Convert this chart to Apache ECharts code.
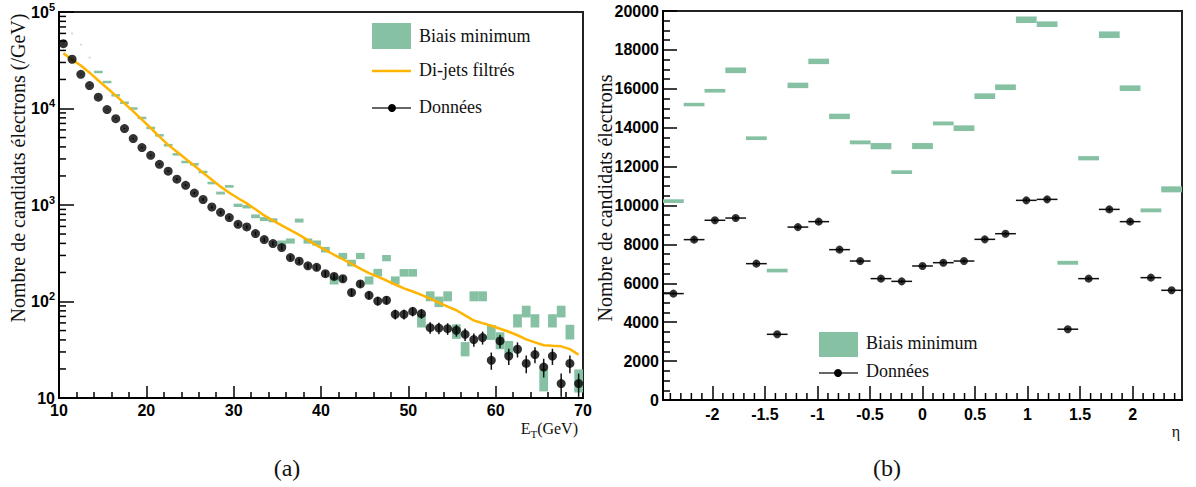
<!DOCTYPE html>
<html><head><meta charset="utf-8">
<script src="https://cdn.jsdelivr.net/npm/echarts@6/dist/echarts.min.js"></script>
<style>html,body{margin:0;padding:0;background:#fff}#c{width:1196px;height:487px}</style>
</head><body><div id="c"></div>
<script>
// ---------- Panel (a): E_T ----------
const etCenters = [10.5,11.5,12.5,13.5,14.5,15.5,16.5,17.5,18.5,19.5,20.5,21.5,22.5,23.5,24.5,25.5,26.5,27.5,28.5,29.5,30.5,31.5,32.5,33.5,34.5,35.5,36.5,37.5,38.5,39.5,40.5,41.5,42.5,43.5,44.5,45.5,46.5,47.5,48.5,49.5,50.5,51.5,52.5,53.5,54.5,55.5,56.5,57.5,58.5,59.5,60.5,61.5,62.5,63.5,64.5,65.5,66.5,67.5,68.5,69.5];
const etBinWidth = 1;
const dataEt = [47000,32400,22600,17300,13100,9740,7850,6190,4880,3940,3270,2640,2240,1850,1600,1330,1140,953,840,740,631,592,506,438,398,362,285,262,234,226,194,182,172,124,152,116,101,103,73.6,73.6,79,74.8,53.6,53,52.3,50.3,45.7,40.3,42.3,24.6,39,27.2,32,22.8,28.2,20.9,27.2,14.1,22.8,14.1];
const dataEtErr = [217,180,150,132,114,99,89,79,70,63,57,51,47,43,40,36,34,31,29,27,25,24,22,21,20,19,17,16,15,15,14,13.5,13,11,12.3,10.8,10,10.1,8.6,8.6,8.9,8.6,7.3,7.3,7.2,7.1,6.8,6.3,6.5,5,6.2,5.2,5.7,4.8,5.3,4.6,5.2,3.8,4.8,3.8];
const dijetEt = [37300,32000,27900,23500,19500,16300,13600,11300,9350,7680,6280,5120,4200,3560,3010,2550,2160,1830,1550,1340,1175,1040,902,780,689,614,548,490,433,382,341,305,274,245,219,197,181,165,150,137,127,117,107,97.2,88.3,81.1,71.8,63.6,59.7,56.1,52.2,48.6,44.7,40.5,37.7,35.2,34.7,34.3,32.1,28.1];
const mbEt = [null,null,null,null,23900,18800,13700,11500,10000,7980,6290,5270,4160,3350,2790,2640,2200,1690,1330,1560,993,960,764,715,695,404,424,690,424,404,345,166,297,251,297,166,200,282,166,199,199,63.8,114,100,114,49.5,32.5,114,114,48.5,40,33.5,63.8,79.4,63.8,15.9,63.8,79.4,48.9,15.6];
const mbEtErr = [null,null,null,null,190,170,150,135,125,113,100,92,82,73,67,65,59,52,46,50,40,39,35,34,33,25,26,33,26,25,23,16,22,20,22,16,18,21,16,18,18,10,13.5,12.5,13.5,8.5,5.5,13.5,13.5,8.5,8,5.5,10,11,10,4.2,10,11,8.5,4.2];
const mbFaintCenters = [11.5,12.5,13.5];
const mbFaintValues = [59700,45900,33700];
const logTickValues = [10,100,1000,10000,100000];
const logTickExp = ['', '2', '3', '4', '5'];
const logMinorTicks = [20,30,40,50,60,70,80,90,200,300,400,500,600,700,800,900,2000,3000,4000,5000,6000,7000,8000,9000,20000,30000,40000,50000,60000,70000,80000,90000];

// ---------- Panel (b): eta ----------
const etaMin = -2.47, etaMax = 2.47;
const etaBinWidth = 0.1976;
const etaCenters = [-2.371,-2.174,-1.976,-1.778,-1.581,-1.383,-1.186,-0.988,-0.790,-0.593,-0.395,-0.198,0,0.198,0.395,0.593,0.790,0.988,1.186,1.383,1.581,1.778,1.976,2.174,2.371];
const dataEta = [5470,8245,9240,9355,7010,3377,8890,9170,7730,7145,6240,6100,6890,7060,7145,8260,8550,10265,10315,3640,6240,9800,9170,6290,5640];
const dataEtaErr = [74,91,96,97,84,58,94,96,88,85,79,78,83,84,85,91,92,101,102,60,79,99,96,79,75];
const mbEta = [10225,15190,15900,16950,13460,6655,16175,17410,14580,13245,13050,11715,13055,14220,13975,15620,16080,19550,19320,7055,12430,18780,16030,9750,10830];
const mbEtaErr = [95,90,95,145,95,95,140,140,140,100,160,95,155,100,145,145,145,170,145,100,110,170,145,100,155];
const etaTicks = [-2,-1.5,-1,-0.5,0,0.5,1,1.5,2];
const etaTickLabels = ['-2','-1.5','-1','-0.5','0','0.5','1','1.5','2'];
const etaMinorTicks = [-2.4,-2.3,-2.2,-2.1,-1.9,-1.8,-1.7,-1.6,-1.4,-1.3,-1.2,-1.1,-0.9,-0.8,-0.7,-0.6,-0.4,-0.3,-0.2,-0.1,0.1,0.2,0.3,0.4,0.6,0.7,0.8,0.9,1.1,1.2,1.3,1.4,1.6,1.7,1.8,1.9,2.1,2.2,2.3,2.4];

const GREEN = '#86c1a3', ORANGE = '#ffb400', BLACK = '#000';
const SANS = '"Liberation Sans", Arial, sans-serif';
const SERIF = '"Liberation Serif", "Times New Roman", serif';
const tickLabel = {fontFamily: SANS, fontWeight: 'bold', fontSize: 16, color: BLACK};

function boxRender(binW, minH) {
  return function (params, api) {
    const c = api.value(0), v = api.value(1), e = api.value(2);
    const p1 = api.coord([c - binW / 2, v + e]);
    const p2 = api.coord([c + binW / 2, v - e]);
    let y1 = p1[1], y2 = p2[1];
    if (y2 - y1 < minH) { const m = (y1 + y2) / 2; y1 = m - minH / 2; y2 = m + minH / 2; }
    return {type: 'rect', shape: {x: p1[0], y: y1, width: p2[0] - p1[0], height: y2 - y1}, style: {fill: GREEN}};
  };
}
function errRender(binW, lw) {
  return function (params, api) {
    const c = api.value(0), v = api.value(1), e = api.value(2);
    const top = api.coord([c, v + e]), bot = api.coord([c, v - e]);
    const children = [{type: 'line', shape: {x1: top[0], y1: top[1], x2: bot[0], y2: bot[1]}, style: {stroke: '#111', lineWidth: lw}}];
    if (binW) {
      const l = api.coord([c - binW / 2, v]), r = api.coord([c + binW / 2, v]);
      children.push({type: 'line', shape: {x1: l[0], y1: l[1], x2: r[0], y2: r[1]}, style: {stroke: '#111', lineWidth: lw}});
    }
    return {type: 'group', children};
  };
}

const mbEtData = [], dataEtErrData = [], dataEtPts = [], dijetPts = [];
etCenters.forEach((c, i) => {
  if (mbEt[i] != null) mbEtData.push([c, mbEt[i], mbEtErr[i]]);
  dataEtErrData.push([c, dataEt[i], dataEtErr[i]]);
  dataEtPts.push([c, dataEt[i]]);
  dijetPts.push([c, dijetEt[i]]);
});
const mbFaintPts = mbFaintCenters.map((c, i) => [c, mbFaintValues[i]]);
const mbEtaData = etaCenters.map((c, i) => [c, mbEta[i], mbEtaErr[i]]);
const dataEtaErrData = etaCenters.map((c, i) => [c, dataEta[i], dataEtaErr[i]]);
const dataEtaPts = etaCenters.map((c, i) => [c, dataEta[i]]);

const axisLine = {show: true, onZero: false, lineStyle: {color: BLACK, width: 2}};

const chart = echarts.init(document.getElementById('c'), null, {renderer: 'svg', width: 1196, height: 487});
chart.setOption({
  animation: false,
  backgroundColor: '#fff',
  grid: [
    {left: 59, top: 12, width: 524, height: 386, show: true, borderColor: '#222', borderWidth: 2, backgroundColor: 'transparent'},
    {left: 663, top: 11, width: 519, height: 389, show: true, borderColor: '#222', borderWidth: 2, backgroundColor: 'transparent'}
  ],
  xAxis: [
    {gridIndex: 0, type: 'value', min: 10, max: 70, interval: 10, axisLine,
      axisTick: {inside: true, length: 12, lineStyle: {color: BLACK, width: 1.5}},
      minorTick: {show: true, splitNumber: 5, length: 6, lineStyle: {color: BLACK, width: 1.5}},
      axisLabel: Object.assign({margin: 4}, tickLabel),
      splitLine: {show: false}, minorSplitLine: {show: false}},
    {gridIndex: 1, type: 'value', min: etaMin, max: etaMax, axisLine,
      axisTick: {inside: true, length: 14, customValues: etaTicks, lineStyle: {color: BLACK, width: 1.5}},
      axisLabel: Object.assign({margin: 6, customValues: etaTicks,
        formatter: v => { const k = etaTicks.findIndex(t => Math.abs(t - v) < 1e-6); return k >= 0 ? etaTickLabels[k] : ''; }}, tickLabel),
      splitLine: {show: false}}
  ],
  yAxis: [
    {gridIndex: 0, type: 'log', logBase: 10, min: 10, max: 100000, axisLine,
      axisTick: {inside: true, length: 15, lineStyle: {color: BLACK, width: 1.5}},
      axisLabel: {margin: 4, color: BLACK,
        formatter: v => { const k = logTickValues.findIndex(t => Math.abs(t - v) / t < 1e-6); if (k < 0) return ''; return logTickExp[k] ? '{b|10}{s|' + logTickExp[k] + '}' : '{b|10}'; },
        rich: {b: {fontFamily: SANS, fontWeight: 'bold', fontSize: 16, color: BLACK, lineHeight: 22},
               s: {fontFamily: SANS, fontWeight: 'bold', fontSize: 11, color: BLACK, verticalAlign: 'top', lineHeight: 22}}},
      splitLine: {show: false}},
    {gridIndex: 1, type: 'value', min: 0, max: 20000, interval: 2000, axisLine,
      axisTick: {inside: true, length: 14, lineStyle: {color: BLACK, width: 1.5}},
      minorTick: {show: true, splitNumber: 4, length: 7, lineStyle: {color: BLACK, width: 1.5}},
      axisLabel: Object.assign({margin: 4, formatter: v => String(v)}, tickLabel),
      splitLine: {show: false}, minorSplitLine: {show: false}}
  ],
  series: [
    {name: 'Biais minimum', type: 'custom', xAxisIndex: 0, yAxisIndex: 0, z: 1, renderItem: boxRender(etBinWidth, 2.5), data: mbEtData, silent: true},
    {name: 'Biais minimum faint', type: 'scatter', xAxisIndex: 0, yAxisIndex: 0, z: 1, symbol: 'rect', symbolSize: [2, 2], itemStyle: {color: '#b9dcc9'}, data: mbFaintPts, silent: true},
    {name: 'Di-jets filtrés', type: 'line', xAxisIndex: 0, yAxisIndex: 0, z: 2, showSymbol: false, symbol: 'none', lineStyle: {color: ORANGE, width: 2.5}, data: dijetPts, silent: true},
    {name: 'Données err', type: 'custom', xAxisIndex: 0, yAxisIndex: 0, z: 3, renderItem: errRender(0, 1.5), data: dataEtErrData, silent: true},
    {name: 'Données', type: 'scatter', xAxisIndex: 0, yAxisIndex: 0, z: 4, symbol: 'circle', symbolSize: 9, itemStyle: {color: BLACK}, data: dataEtPts, silent: true},
    {name: 'log minor ticks', type: 'custom', xAxisIndex: 0, yAxisIndex: 0, z: 5, clip: false, silent: true,
      data: logMinorTicks.map(v => [10, v]),
      renderItem: (p, api) => { const q = api.coord([10, api.value(1)]); return {type: 'line', shape: {x1: q[0], y1: q[1], x2: q[0] + 7, y2: q[1]}, style: {stroke: BLACK, lineWidth: 1.5}}; }},
    {name: 'Biais minimum (b)', type: 'custom', xAxisIndex: 1, yAxisIndex: 1, z: 1, renderItem: boxRender(etaBinWidth, 3), data: mbEtaData, silent: true},
    {name: 'Données err (b)', type: 'custom', xAxisIndex: 1, yAxisIndex: 1, z: 3, renderItem: errRender(etaBinWidth, 1.5), data: dataEtaErrData, silent: true},
    {name: 'Données (b)', type: 'scatter', xAxisIndex: 1, yAxisIndex: 1, z: 4, symbol: 'circle', symbolSize: 8, itemStyle: {color: BLACK}, data: dataEtaPts, silent: true},
    {name: 'eta minor ticks', type: 'custom', xAxisIndex: 1, yAxisIndex: 1, z: 5, clip: false, silent: true,
      data: etaMinorTicks.map(v => [v, 0]),
      renderItem: (p, api) => { const q = api.coord([api.value(0), 0]); return {type: 'line', shape: {x1: q[0], y1: q[1], x2: q[0], y2: q[1] - 7}, style: {stroke: BLACK, lineWidth: 1.5}}; }}
  ],
  graphic: [
    // axis titles
    {type: 'text', x: 18, y: 168, rotation: Math.PI / 2, style: {text: 'Nombre de candidats électrons (/GeV)', x: 0, y: 0, font: '20px ' + SERIF, fill: '#111', align: 'center', verticalAlign: 'middle', textAlign: 'center', textVerticalAlign: 'middle'}},
    {type: 'text', x: 605, y: 198, rotation: Math.PI / 2, style: {text: 'Nombre de candidats électrons', x: 0, y: 0, font: '20px ' + SERIF, fill: '#111', align: 'center', verticalAlign: 'middle', textAlign: 'center', textVerticalAlign: 'middle'}},
    {type: 'text', x: 578, y: 428, style: {text: '{a|E}{b|T}{a|(GeV)}', x: 0, y: 0, align: 'right', verticalAlign: 'middle', textAlign: 'right', textVerticalAlign: 'middle',
      rich: {a: {fontFamily: SERIF, fontSize: 16, fill: '#111', color: '#111', lineHeight: 22}, b: {fontFamily: SERIF, fontSize: 11, fill: '#111', color: '#111', verticalAlign: 'bottom'}}}},
    {type: 'text', x: 1176, y: 431, style: {text: 'η', x: 0, y: 0, font: '16px ' + SERIF, fill: '#111', align: 'center', verticalAlign: 'middle', textAlign: 'center', textVerticalAlign: 'middle'}},
    // captions
    {type: 'text', x: 287, y: 468, style: {text: '(a)', x: 0, y: 0, font: '24px ' + SERIF, fill: '#111', align: 'center', verticalAlign: 'middle', textAlign: 'center', textVerticalAlign: 'middle'}},
    {type: 'text', x: 887, y: 468, style: {text: '(b)', x: 0, y: 0, font: '24px ' + SERIF, fill: '#111', align: 'center', verticalAlign: 'middle', textAlign: 'center', textVerticalAlign: 'middle'}},
    // legend (a)
    {type: 'rect', shape: {x: 372, y: 23, width: 39, height: 26}, style: {fill: GREEN}},
    {type: 'text', x: 419, y: 36, style: {text: 'Biais minimum', x: 0, y: 0, font: '18px ' + SERIF, fill: '#111', align: 'left', verticalAlign: 'middle', textAlign: 'left', textVerticalAlign: 'middle'}},
    {type: 'line', shape: {x1: 372, y1: 71, x2: 411, y2: 71}, style: {stroke: ORANGE, lineWidth: 2.5}},
    {type: 'text', x: 419, y: 70, style: {text: 'Di-jets filtrés', x: 0, y: 0, font: '18px ' + SERIF, fill: '#111', align: 'left', verticalAlign: 'middle', textAlign: 'left', textVerticalAlign: 'middle'}},
    {type: 'line', shape: {x1: 372, y1: 108, x2: 411, y2: 108}, style: {stroke: '#333', lineWidth: 1.5}},
    {type: 'circle', shape: {cx: 392, cy: 108, r: 4}, style: {fill: BLACK}},
    {type: 'text', x: 419, y: 107, style: {text: 'Données', x: 0, y: 0, font: '18px ' + SERIF, fill: '#111', align: 'left', verticalAlign: 'middle', textAlign: 'left', textVerticalAlign: 'middle'}},
    // legend (b)
    {type: 'rect', shape: {x: 819, y: 332, width: 39, height: 25}, style: {fill: GREEN}},
    {type: 'text', x: 866, y: 343, style: {text: 'Biais minimum', x: 0, y: 0, font: '18px ' + SERIF, fill: '#111', align: 'left', verticalAlign: 'middle', textAlign: 'left', textVerticalAlign: 'middle'}},
    {type: 'line', shape: {x1: 819, y1: 373, x2: 858, y2: 373}, style: {stroke: '#333', lineWidth: 1.5}},
    {type: 'circle', shape: {cx: 838, cy: 373, r: 4}, style: {fill: BLACK}},
    {type: 'text', x: 866, y: 371, style: {text: 'Données', x: 0, y: 0, font: '18px ' + SERIF, fill: '#111', align: 'left', verticalAlign: 'middle', textAlign: 'left', textVerticalAlign: 'middle'}}
  ]
});
</script>
</body></html>
